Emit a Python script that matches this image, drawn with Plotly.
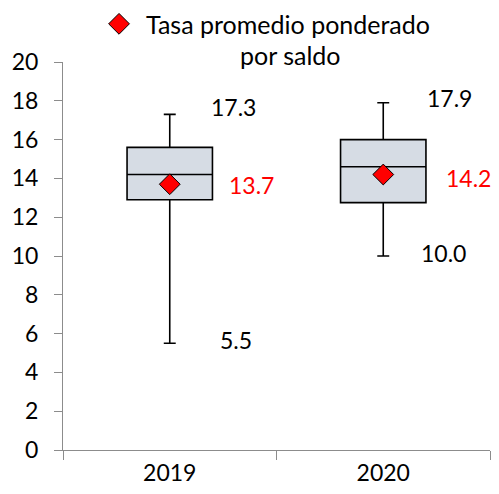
import plotly.graph_objects as go

years = ["2019", "2020"]
x_pos = [0, 1]
lower = [5.5, 10.0]
q1 = [12.9, 12.75]
median = [14.2, 14.6]
q3 = [15.6, 16.0]
upper = [17.3, 17.9]
mean = [13.7, 14.2]
y_ticks = [0, 2, 4, 6, 8, 10, 12, 14, 16, 18, 20]

FONT = "Lato"
FS = 23
LFS = 25
fig = go.Figure()
fig.add_trace(go.Box(
    x=x_pos, q1=q1, median=median, q3=q3, lowerfence=lower, upperfence=upper,
    width=0.4, whiskerwidth=0.14, fillcolor="#D6DCE4",
    line=dict(color="black", width=1.6), showlegend=False, hoverinfo="skip"))
fig.add_trace(go.Scatter(
    x=x_pos, y=mean, mode="markers", name="Tasa promedio ponderado",
    marker=dict(symbol="diamond", size=16, color="#FF0000",
                line=dict(color="black", width=1))))

ann = []
for i in range(2):
    ann.append(dict(x=x_pos[i] + (0.30 if i == 0 else 0.31), y=upper[i] + (0.4 if i == 0 else 0.25),
                    text=f"{upper[i]:.1f}", showarrow=False, xref="x", yref="y",
                    font=dict(color="black", size=FS, family=FONT)))
    ann.append(dict(x=x_pos[i] + (0.385 if i == 0 else 0.40), y=mean[i] + (-0.05 if i == 0 else -0.2),
                    text=f"{mean[i]:.1f}", showarrow=False, xref="x", yref="y",
                    font=dict(color="#FF0000", size=FS, family=FONT)))
    ann.append(dict(x=x_pos[i] + (0.31 if i == 0 else 0.28), y=lower[i] + (0.17 if i == 0 else 0.15),
                    text=f"{lower[i]:.1f}", showarrow=False, xref="x", yref="y",
                    font=dict(color="black", size=FS, family=FONT)))
ann.append(dict(x=0.532, y=1.062, xref="paper", yref="paper", text="por saldo",
                showarrow=False, font=dict(size=LFS, family=FONT, color="black")))

fig.update_layout(
    width=483, height=478, margin=dict(l=55, r=1, t=54, b=36, autoexpand=False),
    plot_bgcolor="white", paper_bgcolor="white",
    font=dict(family=FONT, size=FS, color="black"),
    annotations=ann,
    legend=dict(x=0.068, y=1.157, xanchor="left", yanchor="top",
                font=dict(size=LFS, family=FONT), bgcolor="rgba(0,0,0,0)",
                itemwidth=44),
    showlegend=True,
    xaxis=dict(range=[-0.5, 1.5], tickvals=x_pos, ticktext=years, ticks="",
               showgrid=False, zeroline=False, showline=True, linecolor="#8C8C8C",
               linewidth=1, ticklabelstandoff=2,
               minor=dict(tickvals=[-0.5, 0.5, 1.5], ticks="outside", ticklen=9,
                          tickcolor="#8C8C8C", showgrid=False)),
    yaxis=dict(range=[0, 20], tickvals=y_ticks, ticks="outside", ticklen=8,
               tickcolor="#8C8C8C", showgrid=False, zeroline=False, showline=True,
               linecolor="#8C8C8C", linewidth=1, ticklabelstandoff=11),
)
fig.write_html("out.html")
